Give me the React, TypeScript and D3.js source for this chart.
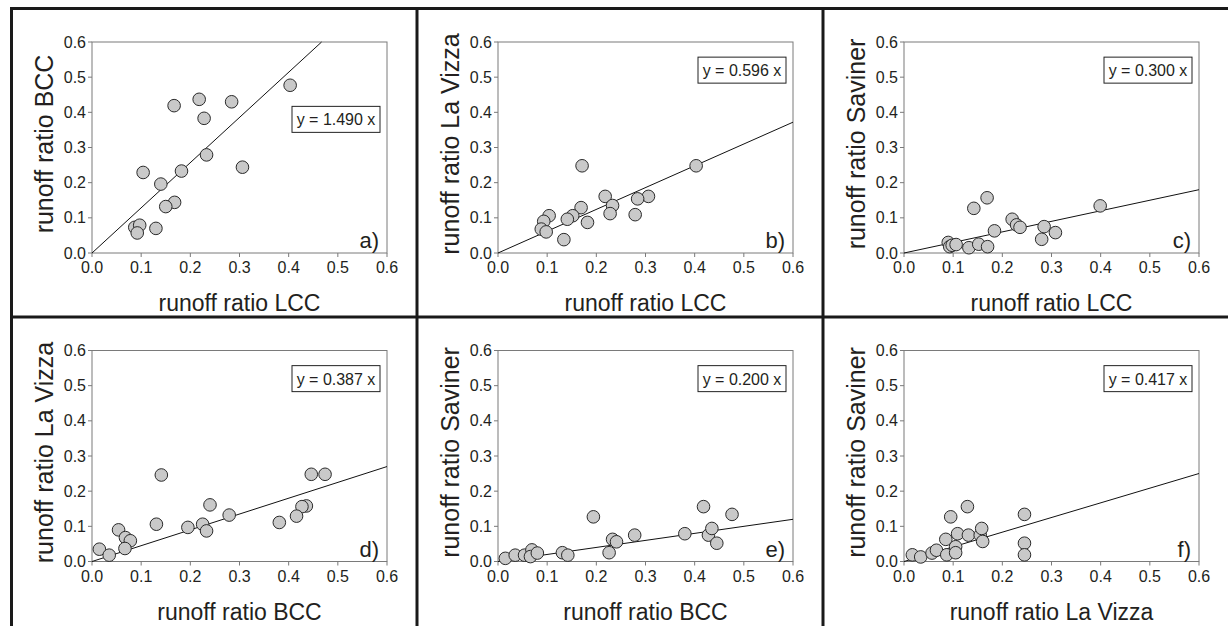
import * as d3 from "d3";

const W = 1228;
const H = 626;

// cell grid + plot placement inside a cell
const CELL_X = [11, 417, 823];
const CELL_Y = [8.5, 317];
const PLOT = { left: 81, top: 33.5, width: 295, height: 211 };

const TICKS = [0, 0.1, 0.2, 0.3, 0.4, 0.5, 0.6];

// runoff ratio pairs
const lccBcc = [
  [0.403, 0.477], [0.218, 0.437], [0.284, 0.43], [0.167, 0.419], [0.228, 0.383],
  [0.233, 0.279], [0.306, 0.244], [0.104, 0.229], [0.182, 0.233], [0.14, 0.196],
  [0.168, 0.144], [0.15, 0.132], [0.13, 0.07], [0.087, 0.073], [0.097, 0.079],
  [0.092, 0.057],
];
const lccVizza = [
  [0.403, 0.248], [0.171, 0.248], [0.218, 0.161], [0.306, 0.161], [0.284, 0.154],
  [0.233, 0.135], [0.169, 0.129], [0.228, 0.112], [0.279, 0.109], [0.104, 0.106],
  [0.152, 0.106], [0.141, 0.096], [0.182, 0.087], [0.093, 0.09], [0.088, 0.068],
  [0.098, 0.06], [0.134, 0.038],
];
const lccSaviner = [
  [0.09, 0.03], [0.093, 0.018], [0.098, 0.022], [0.106, 0.024], [0.132, 0.015],
  [0.142, 0.127], [0.152, 0.025], [0.169, 0.157], [0.17, 0.018], [0.184, 0.063],
  [0.22, 0.096], [0.229, 0.08], [0.236, 0.073], [0.28, 0.039], [0.285, 0.075],
  [0.308, 0.058], [0.399, 0.134],
];
const bccVizza = [
  [0.474, 0.248], [0.446, 0.248], [0.141, 0.246], [0.24, 0.161], [0.436, 0.158],
  [0.427, 0.156], [0.279, 0.132], [0.416, 0.129], [0.381, 0.111], [0.131, 0.106],
  [0.225, 0.106], [0.195, 0.097], [0.233, 0.087], [0.054, 0.09], [0.068, 0.068],
  [0.078, 0.059], [0.067, 0.037], [0.015, 0.035], [0.035, 0.018],
];
const bccSaviner = [
  [0.015, 0.009], [0.035, 0.018], [0.054, 0.018], [0.069, 0.033], [0.066, 0.014],
  [0.08, 0.024], [0.131, 0.025], [0.142, 0.018], [0.194, 0.127], [0.226, 0.025],
  [0.233, 0.063], [0.241, 0.056], [0.278, 0.075], [0.38, 0.079], [0.418, 0.156],
  [0.428, 0.075], [0.435, 0.094], [0.445, 0.052], [0.476, 0.134],
];
const vizzaSaviner = [
  [0.017, 0.019], [0.034, 0.013], [0.057, 0.024], [0.066, 0.032], [0.085, 0.063],
  [0.087, 0.019], [0.095, 0.127], [0.105, 0.042], [0.105, 0.025], [0.109, 0.079],
  [0.129, 0.156], [0.131, 0.075], [0.155, 0.075], [0.158, 0.094], [0.16, 0.057],
  [0.245, 0.134], [0.245, 0.052], [0.245, 0.019],
];

const xTitles = ["runoff ratio LCC", "runoff ratio LCC", "runoff ratio LCC", "runoff ratio BCC", "runoff ratio BCC", "runoff ratio La Vizza"];
const yTitles = ["runoff ratio BCC", "runoff ratio La Vizza", "runoff ratio Saviner", "runoff ratio La Vizza", "runoff ratio Saviner", "runoff ratio Saviner"];
const equations = ["y = 1.490 x", "y = 0.596 x", "y = 0.300 x", "y = 0.387 x", "y = 0.200 x", "y = 0.417 x"];
// slope of the drawn line, as it appears in the picture
const lineSlopes = [1.285, 0.62, 0.3, 0.45, 0.2, 0.417];
// height (data units) of the equation box centre
const boxLevels = [0.38, 0.52, 0.52, 0.52, 0.52, 0.52];
const letters = ["a)", "b)", "c)", "d)", "e)", "f)"];
const allPoints = [lccBcc, lccVizza, lccSaviner, bccVizza, bccSaviner, vizzaSaviner];

const FONT = "'Liberation Sans', Arial, Helvetica, sans-serif";
const INK = "#231f20";

const Panel = ({ i }) => {
  const col = i % 3;
  const row = Math.floor(i / 3);
  const x0 = CELL_X[col] + PLOT.left;
  const y0 = CELL_Y[row] + PLOT.top;

  const xScale = d3.scaleLinear().domain([0, 0.6]).range([x0, x0 + PLOT.width]);
  const yScale = d3.scaleLinear().domain([0, 0.6]).range([y0 + PLOT.height, y0]);

  const slope = lineSlopes[i];
  const xEnd = Math.min(0.6, 0.6 / slope);
  const line = d3.line<number>().x((d) => xScale(d)).y((d) => yScale(d * slope));

  const boxW = 88;
  const boxH = 26;
  const boxRight = xScale(0.6) - 7;
  const boxCy = yScale(boxLevels[i]);

  return (
    <g fontFamily={FONT} fill={INK}>
      {/* axes frame */}
      <rect
        x={xScale(0)}
        y={yScale(0.6)}
        width={PLOT.width}
        height={PLOT.height}
        fill="none"
        stroke="#7a7a7a"
        strokeWidth={1}
      />
      {TICKS.map((t) => (
        <g key={"x" + t}>
          <line x1={xScale(t)} x2={xScale(t)} y1={yScale(0)} y2={yScale(0) + 4} stroke="#7a7a7a" />
          <text x={xScale(t)} y={yScale(0) + 20} textAnchor="middle" fontSize={16}>
            {t.toFixed(1)}
          </text>
        </g>
      ))}
      {TICKS.map((t) => (
        <g key={"y" + t}>
          <line x1={xScale(0) - 4} x2={xScale(0)} y1={yScale(t)} y2={yScale(t)} stroke="#7a7a7a" />
          <text x={xScale(0) - 6} y={yScale(t) + 5.5} textAnchor="end" fontSize={16}>
            {t.toFixed(1)}
          </text>
        </g>
      ))}

      {/* regression line through origin */}
      <path d={line([0, xEnd]) ?? ""} fill="none" stroke="#111" strokeWidth={1} />

      {allPoints[i].map((d, k) => (
        <circle
          key={k}
          cx={xScale(d[0])}
          cy={yScale(d[1])}
          r={6.3}
          fill="#c9c9c9"
          stroke="#2a2a2a"
          strokeWidth={1}
        />
      ))}

      <rect
        x={boxRight - boxW}
        y={boxCy - boxH / 2}
        width={boxW}
        height={boxH}
        fill="white"
        stroke="#222"
        strokeWidth={1}
      />
      <text x={boxRight - boxW / 2} y={boxCy + 6} textAnchor="middle" fontSize={16}>
        {equations[i]}
      </text>

      <text x={xScale(0.6) - 8} y={yScale(0) - 5} textAnchor="end" fontSize={22}>
        {letters[i]}
      </text>

      <text x={xScale(0.3)} y={yScale(0) + 58} textAnchor="middle" fontSize={23}>
        {xTitles[i]}
      </text>
      <text
        transform={`translate(${xScale(0) - 47},${yScale(0.31)}) rotate(-90)`}
        textAnchor="middle"
        dy={8}
        fontSize={25}
      >
        {yTitles[i]}
      </text>
    </g>
  );
};

export default function App() {
  return (
    <div style={{ position: "absolute", left: 0, top: 0 }}>
      <svg width={W} height={H} style={{ display: "block", background: "white" }}>
        <rect width={W} height={H} fill="white" />
        {d3.range(6).map((i) => (
          <Panel key={i} i={i} />
        ))}
        {/* panel separators */}
        <g stroke="#1a1a1a" strokeWidth={3}>
          <line x1={10} x2={W} y1={8.5} y2={8.5} />
          <line x1={10} x2={W} y1={317} y2={317} />
          <line x1={11.5} x2={11.5} y1={7} y2={H} />
          <line x1={CELL_X[1]} x2={CELL_X[1]} y1={7} y2={H} />
          <line x1={CELL_X[2]} x2={CELL_X[2]} y1={7} y2={H} />
        </g>
      </svg>
    </div>
  );
}
